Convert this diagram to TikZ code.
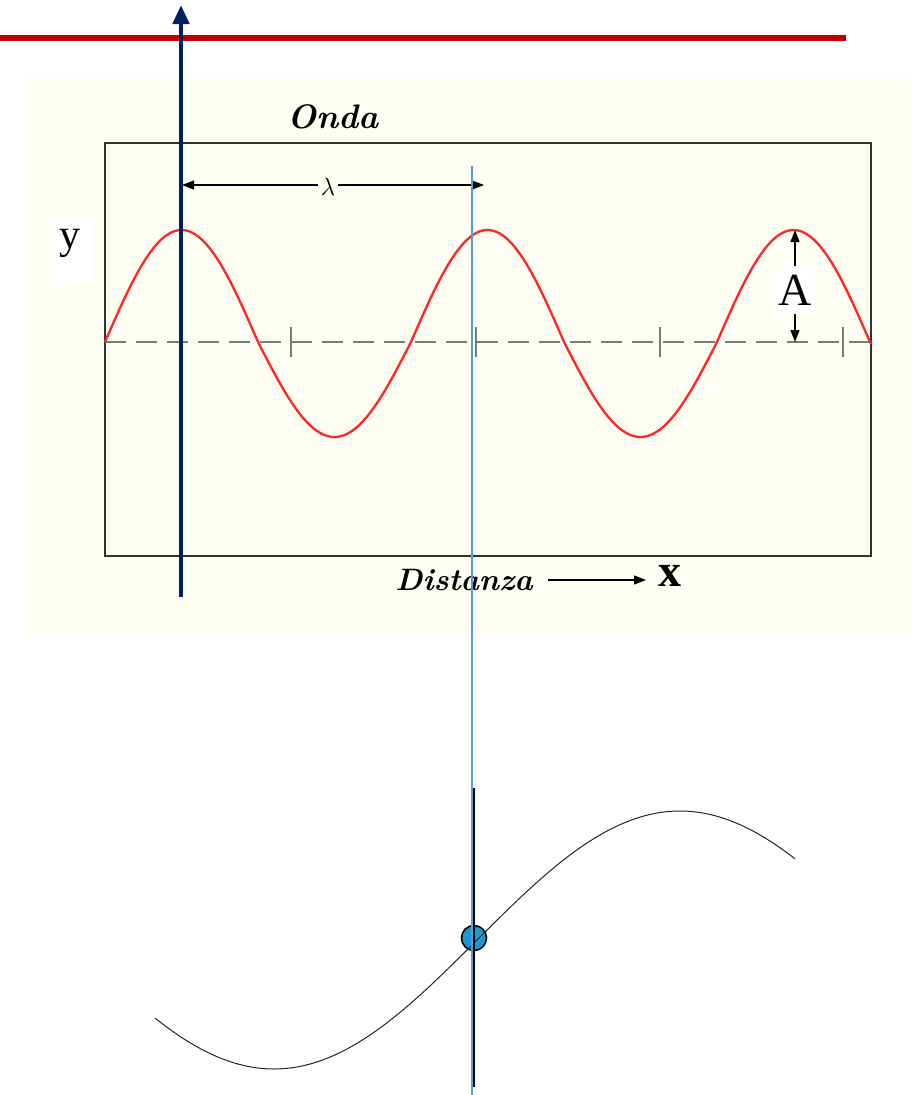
\documentclass[tikz,border=0pt]{standalone}
\usepackage{fontspec}
\setmainfont{Liberation Serif}
\newfontfamily\scriptfnt{Latin Modern Roman}
\usetikzlibrary{arrows.meta}
\definecolor{cream}{HTML}{FEFEF2}
\definecolor{navy}{HTML}{002060}
\definecolor{darkred}{HTML}{C00000}
\definecolor{wavered}{HTML}{FF2626}
\definecolor{lightblue}{HTML}{5B9BD5}
\definecolor{dotblue}{HTML}{1A9AD0}
\definecolor{dashgray}{HTML}{7A7A7A}
\tikzset{
  dimarrow/.style={draw=black, line width=1.3pt, {Triangle[length=12pt,width=9pt]}-{Triangle[length=12pt,width=9pt]}},
  onearrow/.style={draw=black, line width=1.3pt, -{Triangle[length=12pt,width=9pt]}},
  tick/.style={draw=dashgray, line width=1.6pt},
  handtext/.style={font=\scriptfnt\itshape\bfseries\fontsize{34}{34}\selectfont},
  bigletter/.style={font=\fontsize{46}{46}\selectfont, inner sep=2pt}
}
\begin{document}
\begin{tikzpicture}[x=1pt,y=-1pt]
\useasboundingbox (0,0) rectangle (918,1095);
\fill[white] (0,0) rectangle (918,1095);
% cream panel
\fill[cream] (26,77) rectangle (912,633);
% white patch behind y
\fill[white] (54,217) rectangle (93,283);
% frame
\draw[line width=2pt, draw=black!80] (105,143) rectangle (871,556);
% dashed axis
\draw[dashgray, line width=2.2pt, dash pattern=on 21pt off 10pt] (105,342) -- (871,342);
\foreach \t in {291,476,660,843} { \draw[tick] (\t,327) -- (\t,357); }
% red wave
\draw[wavered, line width=2.3pt] plot[domain=105:871, samples=300, variable=\x]
  (\x, {342 - 103.5*sin((\x-105)/306*360) - 8.5*abs(sin((\x-105)/306*360))});
% texts
\node[handtext] (onda) at (333,117) {Onda};
\node[bigletter, font=\fontsize{42}{42}\selectfont] (ylab) at (70,243) {y};
% lambda dimension
\coordinate (l1) at (182,185);
\coordinate (l2) at (484,185);
\draw[dimarrow] (l1) -- (l2);
\node[fill=cream, inner sep=3pt, font=\fontsize{27}{27}\selectfont] (lam) at (328,187) {$\lambda$};
% amplitude
\coordinate (a1) at (795,230);
\coordinate (a2) at (795,342);
\draw[onearrow] (795,268) -- (a1);
\draw[onearrow] (795,314) -- (a2);
\node[fill=white, minimum width=40pt, minimum height=48pt, inner sep=0pt, bigletter] (alab) at (795,290) {A};
% distance
\node[handtext, font=\scriptfnt\itshape\bfseries\fontsize{31}{31}\selectfont] (dist) at (464,580) {Distanza};
\coordinate (d1) at (548,580);
\coordinate (d2) at (646,580);
\draw[onearrow] (d1) -- (d2);
\node[bigletter, font=\bfseries\fontsize{46}{46}\selectfont] (xlab) at (670,576) {x};
% red top line
\coordinate (r1) at (0,38);
\coordinate (r2) at (846,38);
\draw[darkred, line width=6.5pt] (r1) -- (r2);
% navy arrow
\coordinate (n1) at (181,597);
\coordinate (n2) at (181,5);
\draw[navy, line width=4.5pt, -{Triangle[length=19pt,width=16pt]}] (n1) -- (n2);
% thin blue line
\coordinate (b1) at (472,166);
\coordinate (b2) at (472,1095);
\draw[lightblue, line width=1.2pt] (b1) -- (b2);
% black vertical line
\coordinate (k1) at (474,788);
\coordinate (k2) at (474,1087);
\draw[black, line width=1.4pt] (k1) -- (k2);
% bottom sine
\draw[black!85, line width=1pt] plot[domain=155:795, samples=200, variable=\x]
  (\x, {940 + 129*cos((\x-274)/406*180)});
% dot
\node[circle, draw=black, line width=1.6pt, fill=dotblue, minimum size=25pt, inner sep=0pt] (dot) at (474,938) {};
\draw[black!85, line width=1pt] plot[domain=462:486, samples=20, variable=\x]
  (\x, {940 + 129*cos((\x-274)/406*180)});
\draw[lightblue, line width=1.2pt] (472,925) -- (472,951);
\draw[black, line width=1.4pt] (474,925) -- (474,951);
\end{tikzpicture}
\end{document}
